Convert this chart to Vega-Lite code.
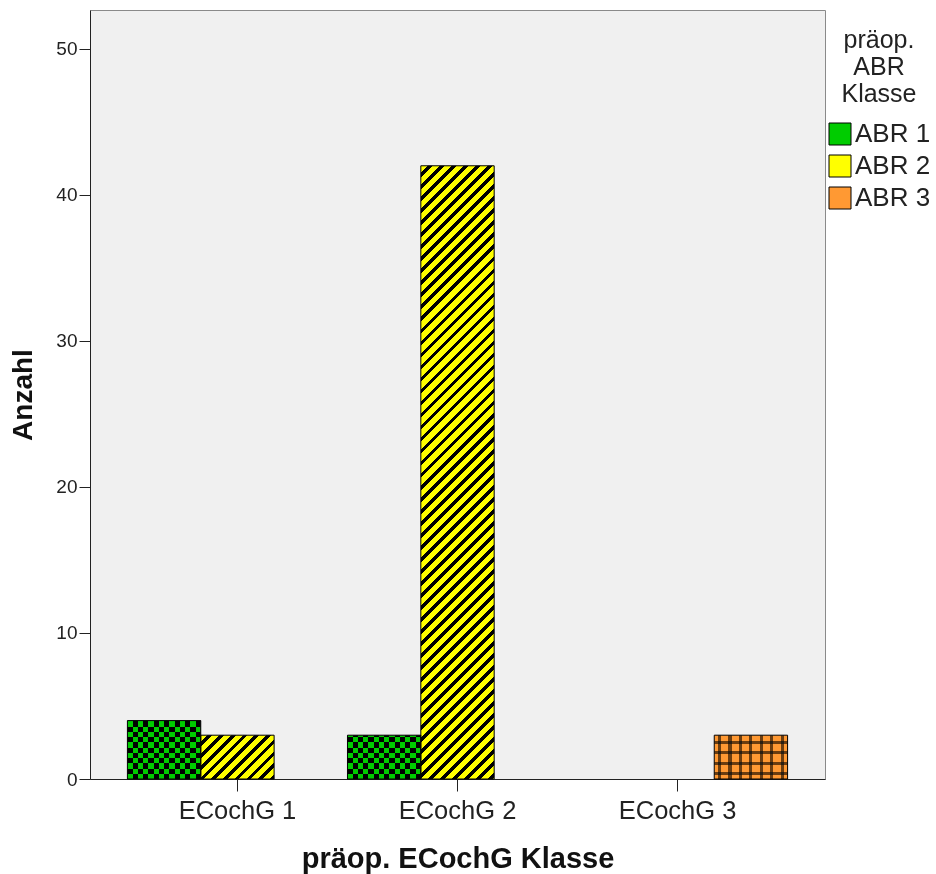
{
  "$schema": "https://vega.github.io/schema/vega-lite/v6.json",
  "width": 735,
  "height": 769,
  "autosize": {"type": "none"},
  "padding": {"left": 90, "top": 10, "right": 111, "bottom": 95},
  "background": "white",
  "config": {
    "font": "Liberation Sans",
    "view": {"fill": "#f0f0f0", "stroke": "#8a8a8a", "strokeWidth": 1}
  },
  "data": {
    "values": [
      {"ecochg": "ECochG 1", "abr": "ABR 1", "count": 4},
      {"ecochg": "ECochG 1", "abr": "ABR 2", "count": 3},
      {"ecochg": "ECochG 2", "abr": "ABR 1", "count": 3},
      {"ecochg": "ECochG 2", "abr": "ABR 2", "count": 42},
      {"ecochg": "ECochG 3", "abr": "ABR 3", "count": 3}
    ]
  },
  "encoding": {
    "x": {
      "field": "ecochg", "type": "nominal",
      "scale": {"paddingInner": 0, "paddingOuter": 0.17},
      "title": "präop. ECochG Klasse",
      "axis": {"labelAngle": 0, "labelFontSize": 25.5, "labelColor": "#222", "tickSize": 12, "tickColor": "#222", "domainColor": "#222", "labelPadding": 7, "titleFontSize": 29, "titleFontWeight": "bold", "titleColor": "#111", "titlePadding": 21, "grid": false}
    },
    "xOffset": {"field": "abr", "type": "nominal", "scale": {"domain": ["ABR 1", "ABR 2", "ABR 3"], "paddingInner": 0, "paddingOuter": 0}},
    "y": {
      "field": "count", "type": "quantitative",
      "scale": {"domain": [0, 52.67], "nice": false},
      "title": "Anzahl",
      "axis": {"values": [0, 10, 20, 30, 40, 50], "labelFontSize": 19, "labelColor": "#222", "tickSize": 11, "tickColor": "#222", "domainColor": "#222", "labelPadding": 2, "titleFontSize": 28, "titleFontWeight": "bold", "titleColor": "#111", "titlePadding": 18, "grid": false}
    }
  },
  "layer": [
    {
      "mark": {"type": "bar"},
      "encoding": {
        "fill": {
          "field": "abr", "type": "nominal",
          "scale": {"domain": ["ABR 1", "ABR 2", "ABR 3"], "range": ["#00cc00", "#ffff00", "#ff9933"]},
          "legend": {
            "orient": "none", "legendX": 737, "legendY": 18,
            "title": ["präop.", "ABR", "Klasse"],
            "titleFontSize": 25, "titleFontWeight": "normal", "titleColor": "#222",
            "titleAlign": "center", "titleAnchor": "middle", "titleLineHeight": 27, "titlePadding": 14,
            "labelFontSize": 26, "labelColor": "#222", "labelOffset": 2,
            "symbolType": "square", "symbolSize": 484, "rowPadding": 6, "padding": 0,
            "symbolStrokeColor": "#000000", "symbolStrokeWidth": 1, "symbolOpacity": 1
          },
          "condition": [
            {"test": "datum.abr === 'ABR 2' && datum.count > 10", "value": {"gradient": "linear", "x1": 0, "y1": 0, "x2": 0.13204, "y2": 1.10383, "stops": [
              {"offset": 0, "color": "#ff0"}, {"offset": 0.0105, "color": "#ff0"}, {"offset": 0.0105, "color": "#000"}, {"offset": 0.0175, "color": "#000"},
              {"offset": 0.0175, "color": "#ff0"}, {"offset": 0.028, "color": "#ff0"}, {"offset": 0.028, "color": "#000"}, {"offset": 0.035, "color": "#000"},
              {"offset": 0.035, "color": "#ff0"}, {"offset": 0.0455, "color": "#ff0"}, {"offset": 0.0455, "color": "#000"}, {"offset": 0.0525, "color": "#000"},
              {"offset": 0.0525, "color": "#ff0"}, {"offset": 0.063, "color": "#ff0"}, {"offset": 0.063, "color": "#000"}, {"offset": 0.07, "color": "#000"},
              {"offset": 0.07, "color": "#ff0"}, {"offset": 0.0805, "color": "#ff0"}, {"offset": 0.0805, "color": "#000"}, {"offset": 0.0875, "color": "#000"},
              {"offset": 0.0875, "color": "#ff0"}, {"offset": 0.098, "color": "#ff0"}, {"offset": 0.098, "color": "#000"}, {"offset": 0.105, "color": "#000"},
              {"offset": 0.105, "color": "#ff0"}, {"offset": 0.1155, "color": "#ff0"}, {"offset": 0.1155, "color": "#000"}, {"offset": 0.1225, "color": "#000"},
              {"offset": 0.1225, "color": "#ff0"}, {"offset": 0.133, "color": "#ff0"}, {"offset": 0.133, "color": "#000"}, {"offset": 0.14, "color": "#000"},
              {"offset": 0.14, "color": "#ff0"}, {"offset": 0.1505, "color": "#ff0"}, {"offset": 0.1505, "color": "#000"}, {"offset": 0.1575, "color": "#000"},
              {"offset": 0.1575, "color": "#ff0"}, {"offset": 0.168, "color": "#ff0"}, {"offset": 0.168, "color": "#000"}, {"offset": 0.175, "color": "#000"},
              {"offset": 0.175, "color": "#ff0"}, {"offset": 0.1855, "color": "#ff0"}, {"offset": 0.1855, "color": "#000"}, {"offset": 0.1925, "color": "#000"},
              {"offset": 0.1925, "color": "#ff0"}, {"offset": 0.203, "color": "#ff0"}, {"offset": 0.203, "color": "#000"}, {"offset": 0.21, "color": "#000"},
              {"offset": 0.21, "color": "#ff0"}, {"offset": 0.2205, "color": "#ff0"}, {"offset": 0.2205, "color": "#000"}, {"offset": 0.2275, "color": "#000"},
              {"offset": 0.2275, "color": "#ff0"}, {"offset": 0.238, "color": "#ff0"}, {"offset": 0.238, "color": "#000"}, {"offset": 0.245, "color": "#000"},
              {"offset": 0.245, "color": "#ff0"}, {"offset": 0.2555, "color": "#ff0"}, {"offset": 0.2555, "color": "#000"}, {"offset": 0.2625, "color": "#000"},
              {"offset": 0.2625, "color": "#ff0"}, {"offset": 0.273, "color": "#ff0"}, {"offset": 0.273, "color": "#000"}, {"offset": 0.28, "color": "#000"},
              {"offset": 0.28, "color": "#ff0"}, {"offset": 0.2905, "color": "#ff0"}, {"offset": 0.2905, "color": "#000"}, {"offset": 0.2975, "color": "#000"},
              {"offset": 0.2975, "color": "#ff0"}, {"offset": 0.308, "color": "#ff0"}, {"offset": 0.308, "color": "#000"}, {"offset": 0.315, "color": "#000"},
              {"offset": 0.315, "color": "#ff0"}, {"offset": 0.3255, "color": "#ff0"}, {"offset": 0.3255, "color": "#000"}, {"offset": 0.3325, "color": "#000"},
              {"offset": 0.3325, "color": "#ff0"}, {"offset": 0.343, "color": "#ff0"}, {"offset": 0.343, "color": "#000"}, {"offset": 0.35, "color": "#000"},
              {"offset": 0.35, "color": "#ff0"}, {"offset": 0.3605, "color": "#ff0"}, {"offset": 0.3605, "color": "#000"}, {"offset": 0.3675, "color": "#000"},
              {"offset": 0.3675, "color": "#ff0"}, {"offset": 0.378, "color": "#ff0"}, {"offset": 0.378, "color": "#000"}, {"offset": 0.385, "color": "#000"},
              {"offset": 0.385, "color": "#ff0"}, {"offset": 0.3955, "color": "#ff0"}, {"offset": 0.3955, "color": "#000"}, {"offset": 0.4025, "color": "#000"},
              {"offset": 0.4025, "color": "#ff0"}, {"offset": 0.413, "color": "#ff0"}, {"offset": 0.413, "color": "#000"}, {"offset": 0.42, "color": "#000"},
              {"offset": 0.42, "color": "#ff0"}, {"offset": 0.4305, "color": "#ff0"}, {"offset": 0.4305, "color": "#000"}, {"offset": 0.4375, "color": "#000"},
              {"offset": 0.4375, "color": "#ff0"}, {"offset": 0.448, "color": "#ff0"}, {"offset": 0.448, "color": "#000"}, {"offset": 0.455, "color": "#000"},
              {"offset": 0.455, "color": "#ff0"}, {"offset": 0.4655, "color": "#ff0"}, {"offset": 0.4655, "color": "#000"}, {"offset": 0.4725, "color": "#000"},
              {"offset": 0.4725, "color": "#ff0"}, {"offset": 0.483, "color": "#ff0"}, {"offset": 0.483, "color": "#000"}, {"offset": 0.49, "color": "#000"},
              {"offset": 0.49, "color": "#ff0"}, {"offset": 0.5005, "color": "#ff0"}, {"offset": 0.5005, "color": "#000"}, {"offset": 0.5075, "color": "#000"},
              {"offset": 0.5075, "color": "#ff0"}, {"offset": 0.518, "color": "#ff0"}, {"offset": 0.518, "color": "#000"}, {"offset": 0.525, "color": "#000"},
              {"offset": 0.525, "color": "#ff0"}, {"offset": 0.5355, "color": "#ff0"}, {"offset": 0.5355, "color": "#000"}, {"offset": 0.5425, "color": "#000"},
              {"offset": 0.5425, "color": "#ff0"}, {"offset": 0.553, "color": "#ff0"}, {"offset": 0.553, "color": "#000"}, {"offset": 0.56, "color": "#000"},
              {"offset": 0.56, "color": "#ff0"}, {"offset": 0.5705, "color": "#ff0"}, {"offset": 0.5705, "color": "#000"}, {"offset": 0.5775, "color": "#000"},
              {"offset": 0.5775, "color": "#ff0"}, {"offset": 0.588, "color": "#ff0"}, {"offset": 0.588, "color": "#000"}, {"offset": 0.595, "color": "#000"},
              {"offset": 0.595, "color": "#ff0"}, {"offset": 0.6055, "color": "#ff0"}, {"offset": 0.6055, "color": "#000"}, {"offset": 0.6125, "color": "#000"},
              {"offset": 0.6125, "color": "#ff0"}, {"offset": 0.623, "color": "#ff0"}, {"offset": 0.623, "color": "#000"}, {"offset": 0.63, "color": "#000"},
              {"offset": 0.63, "color": "#ff0"}, {"offset": 0.6405, "color": "#ff0"}, {"offset": 0.6405, "color": "#000"}, {"offset": 0.6475, "color": "#000"},
              {"offset": 0.6475, "color": "#ff0"}, {"offset": 0.658, "color": "#ff0"}, {"offset": 0.658, "color": "#000"}, {"offset": 0.665, "color": "#000"},
              {"offset": 0.665, "color": "#ff0"}, {"offset": 0.6755, "color": "#ff0"}, {"offset": 0.6755, "color": "#000"}, {"offset": 0.6825, "color": "#000"},
              {"offset": 0.6825, "color": "#ff0"}, {"offset": 0.693, "color": "#ff0"}, {"offset": 0.693, "color": "#000"}, {"offset": 0.7, "color": "#000"},
              {"offset": 0.7, "color": "#ff0"}, {"offset": 0.7105, "color": "#ff0"}, {"offset": 0.7105, "color": "#000"}, {"offset": 0.7175, "color": "#000"},
              {"offset": 0.7175, "color": "#ff0"}, {"offset": 0.728, "color": "#ff0"}, {"offset": 0.728, "color": "#000"}, {"offset": 0.735, "color": "#000"},
              {"offset": 0.735, "color": "#ff0"}, {"offset": 0.7455, "color": "#ff0"}, {"offset": 0.7455, "color": "#000"}, {"offset": 0.7525, "color": "#000"},
              {"offset": 0.7525, "color": "#ff0"}, {"offset": 0.763, "color": "#ff0"}, {"offset": 0.763, "color": "#000"}, {"offset": 0.77, "color": "#000"},
              {"offset": 0.77, "color": "#ff0"}, {"offset": 0.7805, "color": "#ff0"}, {"offset": 0.7805, "color": "#000"}, {"offset": 0.7875, "color": "#000"},
              {"offset": 0.7875, "color": "#ff0"}, {"offset": 0.798, "color": "#ff0"}, {"offset": 0.798, "color": "#000"}, {"offset": 0.805, "color": "#000"},
              {"offset": 0.805, "color": "#ff0"}, {"offset": 0.8155, "color": "#ff0"}, {"offset": 0.8155, "color": "#000"}, {"offset": 0.8225, "color": "#000"},
              {"offset": 0.8225, "color": "#ff0"}, {"offset": 0.833, "color": "#ff0"}, {"offset": 0.833, "color": "#000"}, {"offset": 0.84, "color": "#000"},
              {"offset": 0.84, "color": "#ff0"}, {"offset": 0.8505, "color": "#ff0"}, {"offset": 0.8505, "color": "#000"}, {"offset": 0.8575, "color": "#000"},
              {"offset": 0.8575, "color": "#ff0"}, {"offset": 0.868, "color": "#ff0"}, {"offset": 0.868, "color": "#000"}, {"offset": 0.875, "color": "#000"},
              {"offset": 0.875, "color": "#ff0"}, {"offset": 0.8855, "color": "#ff0"}, {"offset": 0.8855, "color": "#000"}, {"offset": 0.8925, "color": "#000"},
              {"offset": 0.8925, "color": "#ff0"}, {"offset": 0.903, "color": "#ff0"}, {"offset": 0.903, "color": "#000"}, {"offset": 0.91, "color": "#000"},
              {"offset": 0.91, "color": "#ff0"}, {"offset": 0.9205, "color": "#ff0"}, {"offset": 0.9205, "color": "#000"}, {"offset": 0.9275, "color": "#000"},
              {"offset": 0.9275, "color": "#ff0"}, {"offset": 0.938, "color": "#ff0"}, {"offset": 0.938, "color": "#000"}, {"offset": 0.945, "color": "#000"},
              {"offset": 0.945, "color": "#ff0"}, {"offset": 0.9555, "color": "#ff0"}, {"offset": 0.9555, "color": "#000"}, {"offset": 0.9625, "color": "#000"},
              {"offset": 0.9625, "color": "#ff0"}, {"offset": 0.973, "color": "#ff0"}, {"offset": 0.973, "color": "#000"}, {"offset": 0.98, "color": "#000"},
              {"offset": 0.98, "color": "#ff0"}, {"offset": 0.9905, "color": "#ff0"}, {"offset": 0.9905, "color": "#000"}, {"offset": 0.9975, "color": "#000"},
              {"offset": 0.9975, "color": "#ff0"}, {"offset": 1, "color": "#ff0"}
            ]}},
            {"test": "datum.abr === 'ABR 2'", "value": {"gradient": "linear", "x1": 0, "y1": 0, "x2": 1.17744, "y2": 0.70309, "stops": [
              {"offset": 0, "color": "#ff0"}, {"offset": 0.06, "color": "#ff0"}, {"offset": 0.06, "color": "#000"}, {"offset": 0.1, "color": "#000"},
              {"offset": 0.1, "color": "#ff0"}, {"offset": 0.16, "color": "#ff0"}, {"offset": 0.16, "color": "#000"}, {"offset": 0.2, "color": "#000"},
              {"offset": 0.2, "color": "#ff0"}, {"offset": 0.26, "color": "#ff0"}, {"offset": 0.26, "color": "#000"}, {"offset": 0.3, "color": "#000"},
              {"offset": 0.3, "color": "#ff0"}, {"offset": 0.36, "color": "#ff0"}, {"offset": 0.36, "color": "#000"}, {"offset": 0.4, "color": "#000"},
              {"offset": 0.4, "color": "#ff0"}, {"offset": 0.46, "color": "#ff0"}, {"offset": 0.46, "color": "#000"}, {"offset": 0.5, "color": "#000"},
              {"offset": 0.5, "color": "#ff0"}, {"offset": 0.56, "color": "#ff0"}, {"offset": 0.56, "color": "#000"}, {"offset": 0.6, "color": "#000"},
              {"offset": 0.6, "color": "#ff0"}, {"offset": 0.66, "color": "#ff0"}, {"offset": 0.66, "color": "#000"}, {"offset": 0.7, "color": "#000"},
              {"offset": 0.7, "color": "#ff0"}, {"offset": 0.76, "color": "#ff0"}, {"offset": 0.76, "color": "#000"}, {"offset": 0.8, "color": "#000"},
              {"offset": 0.8, "color": "#ff0"}, {"offset": 0.86, "color": "#ff0"}, {"offset": 0.86, "color": "#000"}, {"offset": 0.9, "color": "#000"},
              {"offset": 0.9, "color": "#ff0"}, {"offset": 0.96, "color": "#ff0"}, {"offset": 0.96, "color": "#000"}, {"offset": 1, "color": "#000"}
            ]}},
            {"test": "datum.abr === 'ABR 1'", "value": {"gradient": "linear", "x1": 0, "y1": 0, "x2": 1, "y2": 0, "stops": [
              {"offset": 0, "color": "#00cc00"}, {"offset": 0.0714, "color": "#00cc00"}, {"offset": 0.0714, "color": "#000"}, {"offset": 0.1429, "color": "#000"},
              {"offset": 0.1429, "color": "#00cc00"}, {"offset": 0.2143, "color": "#00cc00"}, {"offset": 0.2143, "color": "#000"}, {"offset": 0.2857, "color": "#000"},
              {"offset": 0.2857, "color": "#00cc00"}, {"offset": 0.3571, "color": "#00cc00"}, {"offset": 0.3571, "color": "#000"}, {"offset": 0.4286, "color": "#000"},
              {"offset": 0.4286, "color": "#00cc00"}, {"offset": 0.5, "color": "#00cc00"}, {"offset": 0.5, "color": "#000"}, {"offset": 0.5714, "color": "#000"},
              {"offset": 0.5714, "color": "#00cc00"}, {"offset": 0.6429, "color": "#00cc00"}, {"offset": 0.6429, "color": "#000"}, {"offset": 0.7143, "color": "#000"},
              {"offset": 0.7143, "color": "#00cc00"}, {"offset": 0.7857, "color": "#00cc00"}, {"offset": 0.7857, "color": "#000"}, {"offset": 0.8571, "color": "#000"},
              {"offset": 0.8571, "color": "#00cc00"}, {"offset": 0.9286, "color": "#00cc00"}, {"offset": 0.9286, "color": "#000"}, {"offset": 1, "color": "#000"}
            ]}},
            {"test": "datum.abr === 'ABR 3'", "value": {"gradient": "linear", "x1": 0, "y1": 0, "x2": 1, "y2": 0, "stops": [
              {"offset": 0, "color": "#ff9933"}, {"offset": 0.05, "color": "#ff9933"}, {"offset": 0.05, "color": "#6b3d10"}, {"offset": 0.0929, "color": "#6b3d10"},
              {"offset": 0.0929, "color": "#ff9933"}, {"offset": 0.1929, "color": "#ff9933"}, {"offset": 0.1929, "color": "#6b3d10"}, {"offset": 0.2357, "color": "#6b3d10"},
              {"offset": 0.2357, "color": "#ff9933"}, {"offset": 0.3357, "color": "#ff9933"}, {"offset": 0.3357, "color": "#6b3d10"}, {"offset": 0.3786, "color": "#6b3d10"},
              {"offset": 0.3786, "color": "#ff9933"}, {"offset": 0.4786, "color": "#ff9933"}, {"offset": 0.4786, "color": "#6b3d10"}, {"offset": 0.5214, "color": "#6b3d10"},
              {"offset": 0.5214, "color": "#ff9933"}, {"offset": 0.6214, "color": "#ff9933"}, {"offset": 0.6214, "color": "#6b3d10"}, {"offset": 0.6643, "color": "#6b3d10"},
              {"offset": 0.6643, "color": "#ff9933"}, {"offset": 0.7643, "color": "#ff9933"}, {"offset": 0.7643, "color": "#6b3d10"}, {"offset": 0.8071, "color": "#6b3d10"},
              {"offset": 0.8071, "color": "#ff9933"}, {"offset": 0.9071, "color": "#ff9933"}, {"offset": 0.9071, "color": "#6b3d10"}, {"offset": 0.95, "color": "#6b3d10"},
              {"offset": 0.95, "color": "#ff9933"}, {"offset": 1, "color": "#ff9933"}
            ]}}
          ]
        }
      }
    },
    {
      "mark": {"type": "bar", "strokeWidth": 0, "blend": "difference"},
      "encoding": {
        "fill": {
          "condition": [
            {"test": "datum.abr === 'ABR 1' && datum.count > 3.5", "value": {"gradient": "linear", "x1": 0, "y1": 1, "x2": 0, "y2": 0, "stops": [
              {"offset": 0, "color": "#000"}, {"offset": 0.0897, "color": "#000"}, {"offset": 0.0897, "color": "#00cc00"}, {"offset": 0.1795, "color": "#00cc00"},
              {"offset": 0.1795, "color": "#000"}, {"offset": 0.2692, "color": "#000"}, {"offset": 0.2692, "color": "#00cc00"}, {"offset": 0.3589, "color": "#00cc00"},
              {"offset": 0.3589, "color": "#000"}, {"offset": 0.4487, "color": "#000"}, {"offset": 0.4487, "color": "#00cc00"}, {"offset": 0.5384, "color": "#00cc00"},
              {"offset": 0.5384, "color": "#000"}, {"offset": 0.6281, "color": "#000"}, {"offset": 0.6281, "color": "#00cc00"}, {"offset": 0.7179, "color": "#00cc00"},
              {"offset": 0.7179, "color": "#000"}, {"offset": 0.8076, "color": "#000"}, {"offset": 0.8076, "color": "#00cc00"}, {"offset": 0.8973, "color": "#00cc00"},
              {"offset": 0.8973, "color": "#000"}, {"offset": 0.9871, "color": "#000"}, {"offset": 0.9871, "color": "#00cc00"}, {"offset": 1, "color": "#00cc00"}
            ]}},
            {"test": "datum.abr === 'ABR 1'", "value": {"gradient": "linear", "x1": 0, "y1": 1, "x2": 0, "y2": 0, "stops": [
              {"offset": 0, "color": "#000"}, {"offset": 0.1196, "color": "#000"}, {"offset": 0.1196, "color": "#00cc00"}, {"offset": 0.2393, "color": "#00cc00"},
              {"offset": 0.2393, "color": "#000"}, {"offset": 0.3589, "color": "#000"}, {"offset": 0.3589, "color": "#00cc00"}, {"offset": 0.4785, "color": "#00cc00"},
              {"offset": 0.4785, "color": "#000"}, {"offset": 0.5982, "color": "#000"}, {"offset": 0.5982, "color": "#00cc00"}, {"offset": 0.7178, "color": "#00cc00"},
              {"offset": 0.7178, "color": "#000"}, {"offset": 0.8374, "color": "#000"}, {"offset": 0.8374, "color": "#00cc00"}, {"offset": 0.957, "color": "#00cc00"},
              {"offset": 0.957, "color": "#000"}, {"offset": 1, "color": "#000"}
            ]}},
            {"test": "datum.abr === 'ABR 3'", "value": {"gradient": "linear", "x1": 0, "y1": 1, "x2": 0, "y2": 0, "stops": [
              {"offset": 0, "color": "#000"}, {"offset": 0.0856, "color": "#000"}, {"offset": 0.0856, "color": "#945c23"}, {"offset": 0.1541, "color": "#945c23"},
              {"offset": 0.1541, "color": "#000"}, {"offset": 0.3253, "color": "#000"}, {"offset": 0.3253, "color": "#945c23"}, {"offset": 0.3938, "color": "#945c23"},
              {"offset": 0.3938, "color": "#000"}, {"offset": 0.565, "color": "#000"}, {"offset": 0.565, "color": "#945c23"}, {"offset": 0.6335, "color": "#945c23"},
              {"offset": 0.6335, "color": "#000"}, {"offset": 0.8047, "color": "#000"}, {"offset": 0.8047, "color": "#945c23"}, {"offset": 0.8732, "color": "#945c23"},
              {"offset": 0.8732, "color": "#000"}, {"offset": 1, "color": "#000"}
            ]}}
          ],
          "value": "#000000"
        }
      }
    },
    {
      "mark": {"type": "bar", "filled": false, "strokeWidth": 1, "stroke": "#000000"},
      "encoding": {}
    }
  ]
}
